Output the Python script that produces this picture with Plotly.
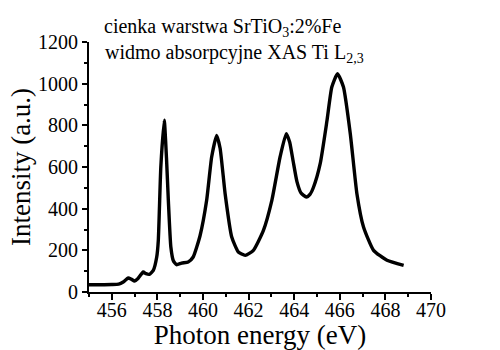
import plotly.graph_objects as go

energy = [455.0, 455.5, 456.0, 456.3, 456.5, 456.72, 456.85, 457.0, 457.15, 457.38,
          457.5, 457.65, 457.82, 457.97, 458.04, 458.15, 458.30, 458.40, 458.48, 458.59,
          458.70, 458.84, 459.06, 459.35, 459.57, 459.87, 460.16, 460.38, 460.6, 460.75,
          460.97, 461.26, 461.55, 461.85, 462.21, 462.65, 463.02, 463.38, 463.65, 463.80,
          463.95, 464.12, 464.30, 464.53, 464.70, 464.85, 465.14, 465.44, 465.65, 465.90,
          466.16, 466.46, 466.75, 467.04, 467.48, 468.07, 468.80]
intensity = [35, 35, 36, 38, 48, 67, 62, 53, 65, 96,
             88, 85, 104, 168, 248, 600, 825, 640, 440, 216,
             150, 131, 139, 144, 168, 270, 440, 648, 752, 690,
             472, 264, 192, 176, 200, 296, 440, 648, 760, 720,
             630, 530, 475, 456, 470, 504, 616, 824, 984, 1048,
             984, 760, 472, 312, 200, 152, 128]

x_ticks = [456, 458, 460, 462, 464, 466, 468, 470]
y_ticks = [0, 200, 400, 600, 800, 1000, 1200]

FONT = "Liberation Serif, Times New Roman, DejaVu Serif, serif"

fig = go.Figure()
fig.add_trace(go.Scatter(x=energy, y=intensity, mode="lines",
                         line=dict(color="black", width=3.4, shape="spline", smoothing=0.5),
                         hoverinfo="skip"))

fig.update_layout(
    width=500, height=350,
    margin=dict(l=89, r=69, t=42, b=58),
    paper_bgcolor="white", plot_bgcolor="white",
    showlegend=False,
    font=dict(family=FONT, color="black"),
    annotations=[
        dict(text="cienka warstwa SrTiO<sub>3</sub>:2%Fe", x=0.038, y=1.058,
             xref="paper", yref="paper", xanchor="left", yanchor="middle",
             showarrow=False, font=dict(family=FONT, size=20, color="black")),
        dict(text="widmo absorpcyjne XAS Ti L<sub>2,3</sub>", x=0.040, y=0.955,
             xref="paper", yref="paper", xanchor="left", yanchor="middle",
             showarrow=False, font=dict(family=FONT, size=20, color="black")),
    ],
)

fig.update_xaxes(
    range=[455, 470], tickvals=x_ticks, ticktext=[str(v) for v in x_ticks],
    showline=True, linecolor="black", linewidth=2,
    ticks="outside", ticklen=6, tickwidth=2, tickcolor="black",
    minor=dict(dtick=1, ticks="outside", ticklen=3, tickwidth=2, tickcolor="black"),
    showgrid=False, zeroline=False, automargin=False, ticklabelstandoff=-7,
    tickfont=dict(family=FONT, size=20, color="black"),
    title=dict(text="Photon energy (eV)", font=dict(family=FONT, size=27, color="black"), standoff=6),
)
fig.update_yaxes(
    range=[0, 1200], tickvals=y_ticks, ticktext=[str(v) for v in y_ticks],
    showline=True, linecolor="black", linewidth=2,
    ticks="outside", ticklen=5, tickwidth=2, tickcolor="black",
    minor=dict(dtick=100, ticks="outside", ticklen=3, tickwidth=2, tickcolor="black"),
    showgrid=False, zeroline=False, automargin=False,
    tickfont=dict(family=FONT, size=20, color="black"),
    title=dict(text="Intensity (a.u.)", font=dict(family=FONT, size=27, color="black"), standoff=0),
)

fig.write_html("out.html")
